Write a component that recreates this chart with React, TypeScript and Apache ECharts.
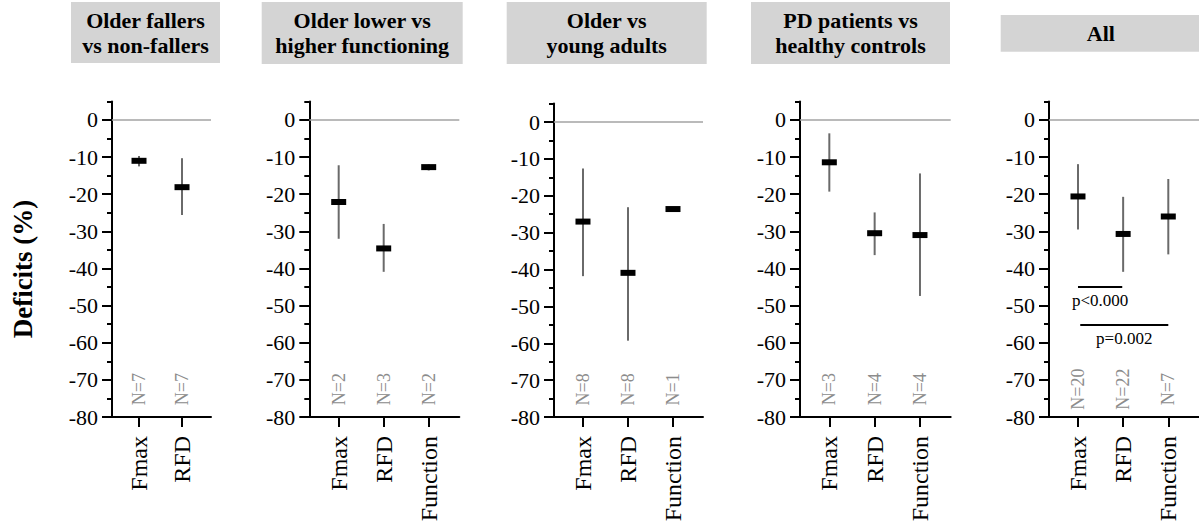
import React, { useEffect, useRef } from "react";
import * as echarts from "echarts";

// ---------- data ----------
const cats2 = ["Fmax", "RFD"];
const cats3 = ["Fmax", "RFD", "Function"];

const panelTitles = [
  "Older fallers\nvs non-fallers",
  "Older lower vs\nhigher functioning",
  "Older vs\nyoung adults",
  "PD patients vs\nhealthy controls",
  "All",
];

// mean, lower whisker, upper whisker, N
const fallersMean = [-11.0, -18.1];
const fallersLow = [-12.5, -25.6];
const fallersHigh = [-9.7, -10.3];
const fallersN = [7, 7];

const functioningMean = [-22.1, -34.6, -12.7];
const functioningLow = [-32.0, -40.9, -13.6];
const functioningHigh = [-12.2, -28.0, -12.0];
const functioningN = [2, 3, 2];

const youngMean = [-27.0, -40.9, -23.6];
const youngLow = [-41.8, -59.3, -23.6];
const youngHigh = [-12.6, -23.1, -23.6];
const youngN = [8, 8, 1];

const pdMean = [-11.4, -30.5, -31.0];
const pdLow = [-19.3, -36.4, -47.4];
const pdHigh = [-3.6, -24.9, -14.4];
const pdN = [3, 4, 4];

const allMean = [-20.6, -30.7, -26.0];
const allLow = [-29.5, -40.9, -36.2];
const allHigh = [-11.9, -20.7, -15.9];
const allN = [20, 22, 7];

// significance annotations for "All": from category, to category, bar level, label
const sigFrom = [1, 1.05];
const sigTo = [1.98, 3];
const sigLevel = [-45, -55.2];
const sigText = ["p<0.000", "p=0.002"];

const yMajorTicks = [-80, -70, -60, -50, -40, -30, -20, -10, 0];
const yMinorTicks = [-75, -65, -55, -45, -35, -25, -15, -5, 5];
const N_LABEL_Y = -72.5;

const panels = [
  { cats: cats2, mean: fallersMean, low: fallersLow, high: fallersHigh, n: fallersN },
  { cats: cats3, mean: functioningMean, low: functioningLow, high: functioningHigh, n: functioningN },
  { cats: cats3, mean: youngMean, low: youngLow, high: youngHigh, n: youngN },
  { cats: cats3, mean: pdMean, low: pdLow, high: pdHigh, n: pdN },
  { cats: cats3, mean: allMean, low: allLow, high: allHigh, n: allN },
];

// ---------- layout ----------
const FONT = "Liberation Serif, Times New Roman, serif";
const grids = [
  { left: 112, top: 101.4, width: 99, height: 315.6, xmin: 0.372, xmax: 2.674 },
  { left: 309.3, top: 101.4, width: 150, height: 315.6, xmin: 0.347, xmax: 3.68 },
  { left: 554, top: 103.6, width: 149, height: 313.4, xmin: 0.356, xmax: 3.667 },
  { left: 800, top: 101.4, width: 150.7, height: 315.6, xmin: 0.353, xmax: 3.678 },
  { left: 1049, top: 101.4, width: 150, height: 315.6, xmin: 0.358, xmax: 3.68 },
];
const titleBoxes = [
  { x: 71, y: 2, w: 149, h: 61 },
  { x: 261.7, y: 2, w: 201, h: 62 },
  { x: 506.7, y: 2, w: 200, h: 62 },
  { x: 751, y: 2, w: 199, h: 62 },
  { x: 1000.7, y: 15, w: 198.3, h: 36.7 },
];

function buildOption() {
  const grid: any[] = [];
  const xAxis: any[] = [];
  const yAxis: any[] = [];
  const series: any[] = [];
  const graphic: any[] = [];

  panels.forEach((p, i) => {
    const g = grids[i];
    grid.push({ left: g.left, top: g.top, width: g.width, height: g.height });
    const catVals = p.cats.map((_, k) => k + 1);
    xAxis.push({
      type: "value",
      gridIndex: i,
      min: g.xmin,
      max: g.xmax,
      splitLine: { show: false },
      axisLine: { show: true, onZero: false, lineStyle: { color: "#000", width: 2 } },
      axisTick: { show: true, customValues: catVals, length: 10, lineStyle: { color: "#000", width: 2 } },
      axisLabel: {
        show: true,
        customValues: catVals,
        rotate: 90,
        margin: 19,
        fontSize: 24,
        fontFamily: FONT,
        color: "#000",
        formatter: (v: number) => p.cats[Math.round(v) - 1] ?? "",
      },
    });
    yAxis.push({
      type: "value",
      gridIndex: i,
      position: "left",
      min: -80,
      max: 5,
      splitLine: { show: false },
      axisLine: { show: true, onZero: false, lineStyle: { color: "#000", width: 2 } },
      axisTick: { show: true, customValues: yMajorTicks, length: 10, lineStyle: { color: "#000", width: 2 } },
      axisLabel: {
        show: true,
        customValues: yMajorTicks,
        margin: 14,
        fontSize: 22,
        fontFamily: FONT,
        color: "#000",
      },
    });
    yAxis.push({
      type: "value",
      gridIndex: i,
      position: "left",
      offset: 0,
      min: -80,
      max: 5,
      splitLine: { show: false },
      axisLine: { show: false },
      axisTick: { show: true, customValues: yMinorTicks, length: 5, lineStyle: { color: "#000", width: 2 } },
      axisLabel: { show: false },
    });

    const data = p.cats.map((_, k) => [k + 1, p.mean[k], p.low[k], p.high[k], p.n[k]]);
    series.push({
      type: "custom",
      xAxisIndex: i,
      yAxisIndex: i * 2,
      data,
      clip: false,
      renderItem: (params: any, api: any) => {
        const x = api.value(0);
        const pm = api.coord([x, api.value(1)]);
        const pl = api.coord([x, api.value(2)]);
        const ph = api.coord([x, api.value(3)]);
        const pn = api.coord([x, N_LABEL_Y]);
        const children: any[] = [];
        if (Math.abs(pl[1] - ph[1]) > 0.5) {
          children.push({
            type: "line",
            shape: { x1: pm[0], y1: ph[1], x2: pm[0], y2: pl[1] },
            style: { stroke: "#6a6a6a", lineWidth: 2 },
          });
        }
        children.push({
          type: "rect",
          shape: { x: pm[0] - 7.5, y: pm[1] - 3, width: 15, height: 6 },
          style: { fill: "#000" },
        });
        children.push({
          type: "text",
          x: pn[0],
          y: pn[1],
          rotation: Math.PI / 2,
          style: {
            text: "N=" + api.value(4),
            align: "center",
            verticalAlign: "middle",
            fontSize: 18,
            fontFamily: FONT,
            fill: "#8c8c8c",
          },
        });
        return { type: "group", children };
      },
      markLine: {
        silent: true,
        symbol: "none",
        label: { show: false },
        lineStyle: { color: "#a3a3a3", width: 1.5, type: "solid" },
        data: [{ yAxis: 0 }],
      },
      z: 3,
    });

    const tb = titleBoxes[i];
    graphic.push({
      type: "rect",
      shape: { x: tb.x, y: tb.y, width: tb.w, height: tb.h },
      style: { fill: "#d4d4d4" },
      z: 0,
    });
    graphic.push({
      type: "text",
      x: tb.x + tb.w / 2 + (i === 4 ? 1 : 0),
      y: tb.y + tb.h / 2,
      style: {
        text: panelTitles[i],
        align: "center",
        verticalAlign: "middle",
        fontSize: 22,
        fontWeight: "bold",
        lineHeight: 25,
        fontFamily: FONT,
        fill: "#000",
      },
      z: 1,
    });
  });

  // significance brackets on the "All" panel
  const sigData = sigFrom.map((f, k) => [f, sigTo[k], sigLevel[k], k]);
  series.push({
    type: "custom",
    xAxisIndex: 4,
    yAxisIndex: 8,
    data: sigData,
    clip: false,
    renderItem: (params: any, api: any) => {
      const a = api.coord([api.value(0), api.value(2)]);
      const b = api.coord([api.value(1), api.value(2)]);
      const k = api.value(3);
      return {
        type: "group",
        children: [
          {
            type: "line",
            shape: { x1: a[0], y1: a[1], x2: b[0], y2: b[1] },
            style: { stroke: "#000", lineWidth: 2 },
          },
          {
            type: "text",
            x: (a[0] + b[0]) / 2,
            y: a[1] + 5,
            style: {
              text: sigText[k],
              align: "center",
              verticalAlign: "top",
              fontSize: 17,
              fontFamily: FONT,
              fill: "#000",
            },
          },
        ],
      };
    },
    z: 3,
  });

  graphic.push({
    type: "text",
    x: 23,
    y: 269,
    rotation: Math.PI / 2,
    style: {
      text: "Deficits (%)",
      align: "center",
      verticalAlign: "middle",
      fontSize: 27,
      fontWeight: "bold",
      fontFamily: FONT,
      fill: "#000",
    },
  });

  return {
    animation: false,
    backgroundColor: "#fff",
    grid,
    xAxis,
    yAxis,
    series,
    graphic,
  };
}

export default function App() {
  const ref = useRef<HTMLDivElement>(null);
  useEffect(() => {
    if (!ref.current) return;
    const chart = echarts.init(ref.current, undefined, { renderer: "svg" });
    chart.setOption(buildOption() as any);
    return () => chart.dispose();
  }, []);
  return (
    <div
      ref={ref}
      style={{ position: "fixed", left: 0, top: 0, width: 1199, height: 527, background: "#fff" }}
    />
  );
}
